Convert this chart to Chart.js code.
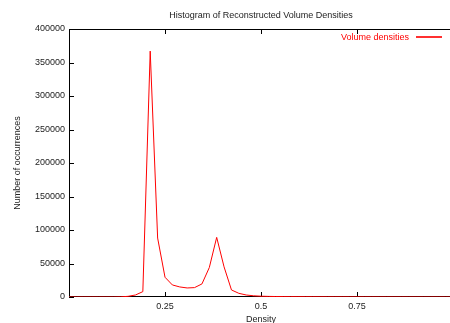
<!DOCTYPE html>
<html>
<head>
<meta charset="utf-8">
<script src="https://cdn.jsdelivr.net/npm/chart.js@4"></script>
<style>
  html, body { margin: 0; padding: 0; overflow: hidden; background: #fff; }
  canvas { display: block; }
</style>
</head>
<body>
<canvas id="hist" width="456" height="323"></canvas>
<script>
// bin centres of the histogram (density)
const densities = [
  0, 0.0192, 0.0385, 0.0577, 0.0769, 0.0962, 0.1154, 0.1346, 0.1538, 0.1731,
  0.1923, 0.2115, 0.2308, 0.25, 0.2692, 0.2885, 0.3077, 0.3269, 0.3462, 0.3654,
  0.3846, 0.4038, 0.4231, 0.4423, 0.4615, 0.4808, 0.5, 0.5192, 0.5385, 0.5577,
  0.5769, 0.5962, 0.6154, 0.6346, 0.6538, 0.6731, 0.6923, 0.7115, 0.7308, 0.75,
  0.7692, 0.7885, 0.8077, 0.8269, 0.8462, 0.8654, 0.8846, 0.9038, 0.9231, 0.9423,
  0.9615, 0.9808, 1.0
];
// number of occurrences per bin
const counts = [
  0, 0, 0, 0, 0, 0, 0, 200, 1000, 3000,
  8000, 367000, 88000, 29500, 18000, 15000, 13500, 14000, 19500, 44000,
  89000, 45000, 10500, 5500, 3000, 1800, 1200, 900, 700, 600,
  500, 450, 400, 350, 300, 250, 220, 200, 180, 150,
  120, 100, 80, 70, 60, 50, 40, 30, 20, 10,
  5, 0, 0
];
const xTicks = [0.25, 0.5, 0.75];
const yTicks = [0, 50000, 100000, 150000, 200000, 250000, 300000, 350000, 400000];

const seriesName = "Volume densities";
const font = { family: "'Liberation Sans', Arial, sans-serif", size: 9, weight: "normal" };

// gnuplot-like frame: border on left/top/bottom with inward ticks, plus key
const gnuplotFrame = {
  id: "gnuplotFrame",
  beforeDatasetsDraw(chart) {
    const { ctx, chartArea: a, scales } = chart;
    ctx.save();
    ctx.strokeStyle = "#000";
    ctx.lineWidth = 1;
    ctx.beginPath();
    ctx.moveTo(a.right, a.bottom - 0.5);
    ctx.lineTo(a.left + 0.5, a.bottom - 0.5);
    ctx.lineTo(a.left + 0.5, a.top + 0.5);
    ctx.lineTo(a.right, a.top + 0.5);
    xTicks.forEach((v) => {
      const px = Math.round(scales.x.getPixelForValue(v)) + 0.5;
      ctx.moveTo(px, a.bottom); ctx.lineTo(px, a.bottom - 5);
      ctx.moveTo(px, a.top); ctx.lineTo(px, a.top + 5);
    });
    yTicks.forEach((v) => {
      const py = Math.round(scales.y.getPixelForValue(v)) + 0.5;
      ctx.moveTo(a.left, py); ctx.lineTo(a.left + 5, py);
    });
    ctx.stroke();
    ctx.restore();
  },
  afterDraw(chart) {
    const { ctx } = chart;
    ctx.save();
    ctx.font = "9px " + font.family;
    ctx.fillStyle = "#ff0000";
    ctx.textAlign = "right";
    ctx.textBaseline = "middle";
    ctx.fillText(seriesName, 409, 37.5);
    ctx.fillStyle = "#ff3030";
    ctx.fillRect(416, 36, 26, 2);
    ctx.restore();
  },
};

new Chart(document.getElementById("hist"), {
  type: "line",
  data: {
    datasets: [
      {
        label: seriesName,
        data: densities.map((d, i) => ({ x: d, y: counts[i] })),
        borderColor: "#ff0000",
        borderWidth: 1,
        pointRadius: 0,
        tension: 0,
        fill: false,
      },
    ],
  },
  options: {
    responsive: false,
    animation: false,
    devicePixelRatio: 1,
    layout: { padding: { top: 0, left: 0, right: 3, bottom: 0 } },
    plugins: {
      legend: { display: false },
      tooltip: { enabled: false },
      title: {
        display: true,
        text: "Histogram of Reconstructed Volume Densities",
        fullSize: false,
        color: "#222",
        font: font,
        padding: { top: 10, bottom: 8.2 },
      },
    },
    scales: {
      x: {
        type: "linear",
        min: 0,
        max: 1,
        afterBuildTicks: (s) => { s.ticks = xTicks.map((v) => ({ value: v })); },
        afterFit: (s) => { s.height = 26; },
        grid: { display: false, drawTicks: false },
        border: { display: false },
        ticks: { color: "#222", font: font, padding: 4, maxRotation: 0, callback: (v) => String(v) },
        title: { display: true, text: "Density", color: "#222", font: font, padding: { top: 0, bottom: -2 } },
      },
      y: {
        min: 0,
        max: 400000,
        afterBuildTicks: (s) => { s.ticks = yTicks.map((v) => ({ value: v })); },
        afterFit: (s) => { s.width = 69; },
        grid: { display: false, drawTicks: false },
        border: { display: false },
        ticks: { color: "#222", font: font, padding: 4, callback: (v) => String(v) },
        title: { display: true, text: "Number of occurrences", color: "#222", font: font, padding: { top: 12, bottom: 0 } },
      },
    },
  },
  plugins: [gnuplotFrame],
});
</script>
</body>
</html>
